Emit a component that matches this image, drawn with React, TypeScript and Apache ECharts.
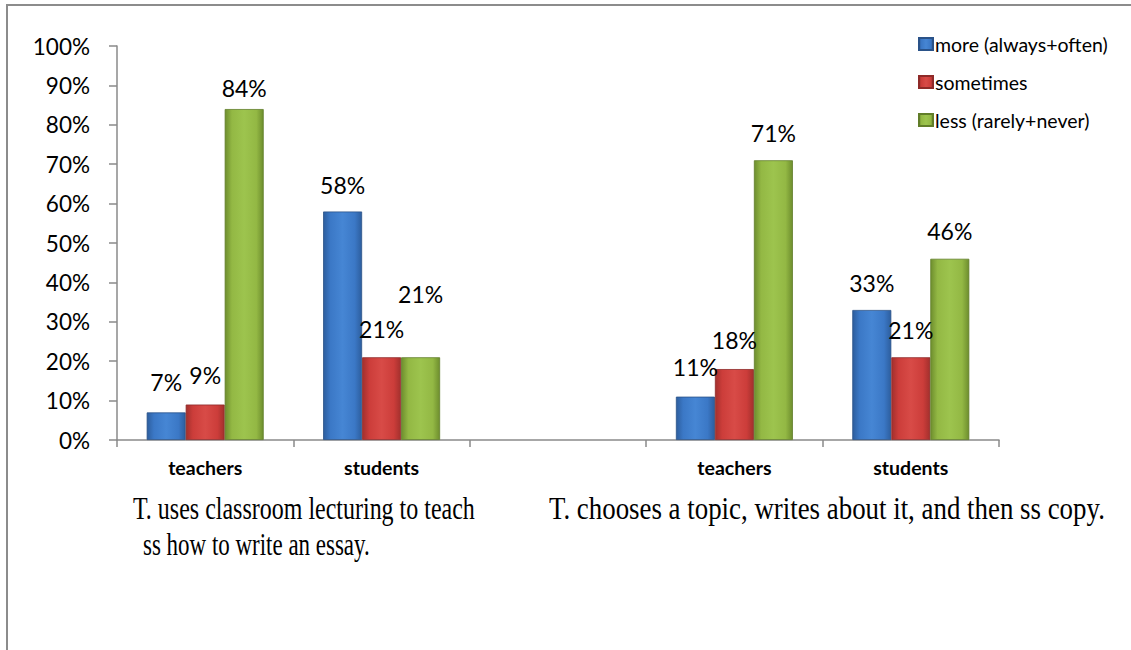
import React, { useEffect, useRef } from "react";
import * as echarts from "echarts";

// ---- data ----
const categories = ["teachers", "students", "", "teachers", "students"];
const seriesNames = ["more (always+often)", "sometimes", "less (rarely+never)"];
const moreVals = [7, 58, null, 11, 33];
const sometimesVals = [9, 21, null, 18, 21];
const lessVals = [84, 21, null, 71, 46];
const captionLeft = ["T. uses classroom lecturing to teach", "ss how to write an essay."];
const captionRight = "T. chooses a topic, writes about it, and then ss copy.";

// ---- layout (label lift above bar tops, px) ----
const moreLift = [19, 15, 0, 18, 15];
const sometimesLift = [18, 17, 0, 18, 16];
const lessLift = [10, 52, 0, 16, 16];

const grad = (edge: string, mid: string, light: string) => ({
  type: "linear",
  x: 0,
  y: 0,
  x2: 1,
  y2: 0,
  colorStops: [
    { offset: 0, color: edge },
    { offset: 0.18, color: mid },
    { offset: 0.5, color: light },
    { offset: 0.82, color: mid },
    { offset: 1, color: edge },
  ],
});

const palette = [
  grad("#2D5E9E", "#3B78C6", "#4686D4"),
  grad("#A3302D", "#CC3D3A", "#D84B47"),
  grad("#6E8E2E", "#93B844", "#9DC44E"),
];
const borderCols = ["#2A5288", "#8E2A28", "#617D29"];

function measure(text: string, font: string) {
  const c = document.createElement("canvas").getContext("2d");
  if (!c) return 1;
  c.font = font;
  return c.measureText(text).width;
}

export default function App() {
  const ref = useRef<HTMLDivElement>(null);
  useEffect(() => {
    document.body.style.margin = "0";
    if (!ref.current) return;
    const chart = echarts.init(ref.current, undefined, { renderer: "svg" });
    const labelFont = "Lato";
    const mk = (vals: (number | null)[], lift: number[]) =>
      vals.map((v, i) => (v === null ? "-" : { value: v, label: { distance: lift[i] } }));
    const allData = [mk(moreVals, moreLift), mk(sometimesVals, sometimesLift), mk(lessVals, lessLift)];

    const serifFont = '31px "Liberation Serif"';
    const capText = (text: string, x: number, y: number, width: number) => ({
      type: "text",
      x,
      y,
      scaleX: width / measure(text, serifFont),
      style: {
        text,
        font: serifFont,
        fill: "#000",
        align: "left",
        verticalAlign: "middle",
      },
    });

    chart.setOption({
      animation: false,
      grid: { left: 117, right: 132, top: 46, bottom: 210, containLabel: false },
      legend: {
        orient: "vertical",
        left: 913,
        top: 29,
        itemWidth: 14,
        itemHeight: 12,
        itemGap: 18,
        icon: "rect",
        textStyle: { fontFamily: labelFont, fontSize: 19.5, color: "#000", padding: [0, 0, 0, -3] },
        data: seriesNames,
      },
      xAxis: {
        type: "category",
        data: categories,
        axisLine: { lineStyle: { color: "#8a8a8a", width: 1.5 } },
        axisTick: { show: true, length: 7, lineStyle: { color: "#8a8a8a", width: 1.5 } },
        axisLabel: {
          fontFamily: labelFont,
          fontWeight: "bold",
          fontSize: 19.5,
          color: "#000",
          margin: 17,
          interval: 0,
        },
      },
      yAxis: {
        type: "value",
        min: 0,
        max: 100,
        interval: 10,
        splitLine: { show: false },
        axisLine: { show: true, lineStyle: { color: "#8a8a8a", width: 1.5 } },
        axisTick: { show: true, length: 8, lineStyle: { color: "#8a8a8a", width: 1.5 } },
        axisLabel: {
          formatter: "{value}%",
          fontFamily: labelFont,
          fontSize: 22.5,
          color: "#000",
          margin: 27,
        },
      },
      series: seriesNames.map((name, s) => ({
        name,
        type: "bar",
        barWidth: 39,
        barGap: "0%",
        data: allData[s],
        itemStyle: { color: palette[s], borderColor: borderCols[s], borderWidth: 0.8 },
        label: {
          show: true,
          position: "top",
          formatter: "{c}%",
          fontFamily: labelFont,
          fontSize: 23,
          color: "#000",
        },
      })),
      graphic: [
        {
          type: "rect",
          silent: true,
          shape: { x: 7, y: 5, width: 1140, height: 700 },
          style: { fill: "none", stroke: "#8c8c8c", lineWidth: 2 },
        },
        capText(captionLeft[0], 133, 508, 342),
        capText(captionLeft[1], 143, 545, 227),
        capText(captionRight, 549, 508, 556),
      ],
    });
    return () => chart.dispose();
  }, []);
  return <div ref={ref} style={{ width: 1131, height: 650 }} />;
}
